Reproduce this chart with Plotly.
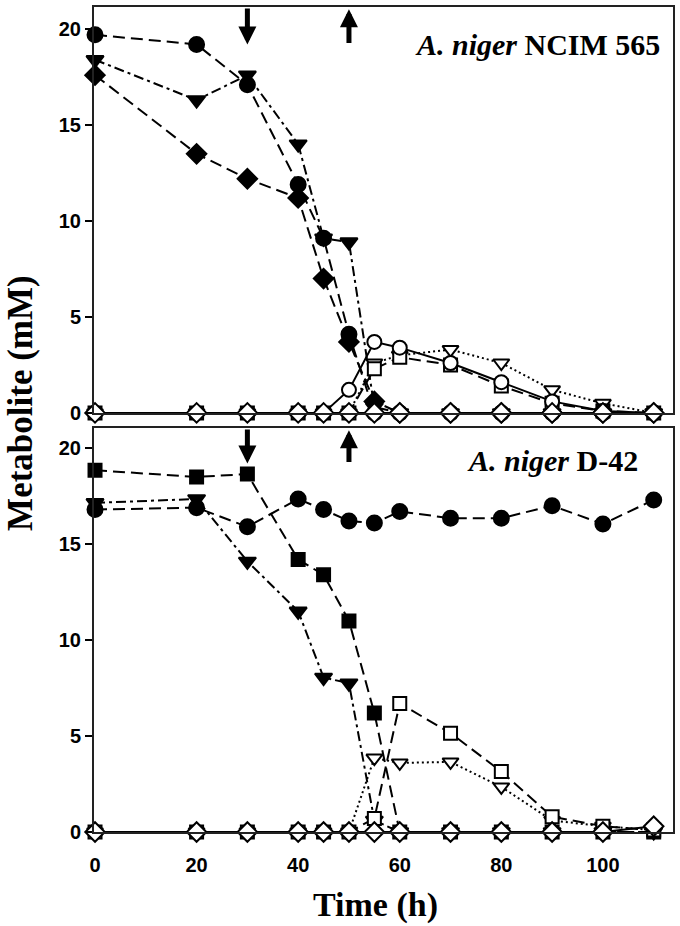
import plotly.graph_objects as go

time_h = [0, 20, 30, 40, 45, 50, 55, 60, 70, 80, 90, 100, 110]

# Panel A: A. niger NCIM 565
a_circle_filled = [19.7, 19.2, 17.1, 11.9, 9.1, 4.1, 0, 0, 0, 0, 0, 0, 0]
a_tri_filled = [18.4, 16.3, 17.6, 14.0, 9.1, 8.9, 0.3, 0, 0, 0, 0, 0, 0]
a_dia_filled = [17.6, 13.5, 12.2, 11.2, 7.0, 3.7, 0.6, 0, 0, 0, 0, 0, 0]
a_circle_open = [0, 0, 0, 0, 0, 1.2, 3.7, 3.4, 2.6, 1.6, 0.6, 0.1, 0]
a_square_open = [0, 0, 0, 0, 0, 0, 2.3, 2.9, 2.5, 1.4, 0.5, 0.1, 0]
a_tri_open = [0, 0, 0, 0, 0, 0, 2.6, 3.0, 3.3, 2.6, 1.2, 0.5, 0]
a_dia_open = [0, 0, 0, 0, 0, 0, 0, 0, 0, 0, 0, 0, 0]

# Panel B: A. niger D-42
b_circle_filled = [16.8, 16.9, 15.9, 17.35, 16.8, 16.2, 16.1, 16.7, 16.35, 16.35, 17.0, 16.05, 17.3]
b_square_filled = [18.85, 18.5, 18.65, 14.2, 13.4, 11.0, 6.2, 0, 0, 0, 0, 0, 0]
b_tri_filled = [17.15, 17.35, 14.1, 11.5, 8.05, 7.75, 0.6, 0, 0, 0, 0, 0, 0]
b_square_open = [0, 0, 0, 0, 0, 0, 0.7, 6.7, 5.15, 3.15, 0.8, 0.3, 0.1]
b_tri_open = [0, 0, 0, 0, 0, 0, 3.85, 3.6, 3.65, 2.35, 0.6, 0.3, 0.1]
b_dia_open = [0, 0, 0, 0, 0, 0, 0, 0, 0, 0, 0, 0, 0.3]

y_ticks = [0, 5, 10, 15, 20]
x_ticks = [0, 20, 40, 60, 80, 100]
arrow_down_t = 30
arrow_up_t = 50

LONG = "12px,6px"
DASHDOT = "10px,4px,3px,4px"
DOT = "2px,3px"

fig = go.Figure()


def add(y, symbol, filled, dash, size, xa, ya):
    fig.add_trace(go.Scatter(
        x=time_h, y=y, mode="lines+markers", xaxis=xa, yaxis=ya,
        line=dict(color="black", width=2, dash=dash),
        marker=dict(symbol=symbol, size=size,
                    color="black" if filled else "white",
                    line=dict(color="black", width=2)),
        cliponaxis=False, showlegend=False))


# Panel A
add(a_dia_filled, "diamond", True, LONG, 15, "x", "y")
add(a_tri_filled, "triangle-down", True, DASHDOT, 15, "x", "y")
add(a_circle_filled, "circle", True, LONG, 15, "x", "y")
add(a_tri_open, "triangle-down", False, DOT, 14, "x", "y")
add(a_square_open, "square", False, LONG, 13, "x", "y")
add(a_circle_open, "circle", False, "solid", 14, "x", "y")
add(a_dia_open, "diamond", False, "solid", 15, "x", "y")

# Panel B
add(b_circle_filled, "circle", True, LONG, 15, "x2", "y2")
add(b_square_filled, "square", True, LONG, 13, "x2", "y2")
add(b_tri_filled, "triangle-down", True, DASHDOT, 15, "x2", "y2")
add(b_tri_open, "triangle-down", False, DOT, 14, "x2", "y2")
add(b_square_open, "square", False, LONG, 13, "x2", "y2")
add(b_dia_open, "diamond", False, "solid", 15, "x2", "y2")

tickfont = dict(family="Liberation Sans, Arial", size=20, color="black", weight="bold")
serif = "Liberation Serif, Times New Roman"

axis_common = dict(showline=True, linecolor="#222", linewidth=2, mirror=True,
                   showgrid=False, zeroline=False)

fig.update_layout(
    width=680, height=926,
    margin=dict(l=94, r=5, t=5, b=94),
    paper_bgcolor="white", plot_bgcolor="white",
    xaxis=dict(domain=[0, 1], range=[-0.2, 113.8], anchor="y",
               showticklabels=False, ticks="", **axis_common),
    yaxis=dict(domain=[0.508, 1], range=[0, 21.15], anchor="x",
               tickvals=y_ticks, ticks="outside", ticklen=7, tickwidth=2,
               tickcolor="black", tickfont=tickfont, **axis_common),
    xaxis2=dict(domain=[0, 1], range=[-0.2, 113.8], anchor="y2",
                tickvals=x_ticks, ticks="", tickfont=tickfont,
                ticklabelstandoff=14, **axis_common),
    yaxis2=dict(domain=[0, 0.4897], range=[0, 21.05], anchor="x2",
                tickvals=y_ticks, ticks="outside", ticklen=7, tickwidth=2,
                tickcolor="black", tickfont=tickfont, **axis_common),
)

ann = []
# arrows
for xr, yr, top in (("x", "y", 21.15), ("x2", "y2", 21.05)):
    ann.append(dict(x=arrow_down_t, y=19.2, ax=arrow_down_t, ay=top, xref=xr, yref=yr,
                    axref=xr, ayref=yr, showarrow=True, arrowhead=2, arrowwidth=5,
                    arrowsize=0.72, arrowcolor="black", text=""))
    ann.append(dict(x=arrow_up_t, y=top - 0.12, ax=arrow_up_t, ay=19.2, xref=xr, yref=yr,
                    axref=xr, ayref=yr, showarrow=True, arrowhead=2, arrowwidth=5,
                    arrowsize=0.72, arrowcolor="black", text=""))

ann.append(dict(x=0.981, y=0.955, xref="paper", yref="paper", xanchor="right", yanchor="middle",
                text="<b><i>A. niger</i> NCIM 565</b>", showarrow=False,
                font=dict(family=serif, size=30, color="black")))
ann.append(dict(x=0.943, y=0.450, xref="paper", yref="paper", xanchor="right", yanchor="middle",
                text="<b><i>A. niger</i> D-42</b>", showarrow=False,
                font=dict(family=serif, size=30, color="black")))
ann.append(dict(x=0.487, y=-0.088, xref="paper", yref="paper", xanchor="center", yanchor="middle",
                text="<b>Time (h)</b>", showarrow=False,
                font=dict(family=serif, size=34, color="black")))
ann.append(dict(x=-0.128, y=0.52, xref="paper", yref="paper", xanchor="center", yanchor="middle",
                text="<b>Metabolite (mM)</b>", showarrow=False, textangle=-90,
                font=dict(family=serif, size=35, color="black")))
fig.update_layout(annotations=ann)

fig.write_html("out.html", config={"displayModeBar": False},
               post_script="document.body.style.margin='0';")
